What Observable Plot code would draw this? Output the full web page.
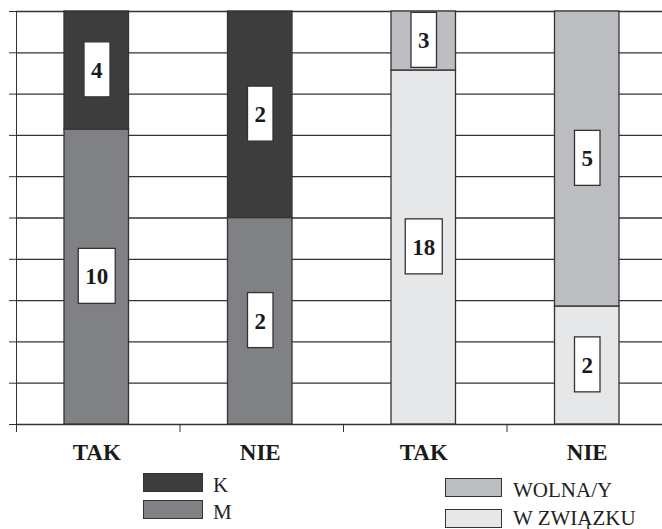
<!DOCTYPE html>
<html>
<head>
<meta charset="utf-8">
<script src="https://cdn.jsdelivr.net/npm/d3@7"></script>
<script src="https://cdn.jsdelivr.net/npm/@observablehq/plot@0.6"></script>
<style>
  html, body { margin: 0; padding: 0; background: #fff; }
  #wrap { position: relative; width: 662px; height: 529px; overflow: hidden; font-family: "Liberation Serif", "Times New Roman", serif; color: #222; }
  #wrap svg { position: absolute; left: 0; top: 0; }
  .swatch { position: absolute; box-sizing: border-box; border: 1.3px solid #333; }
  .legend-label { position: absolute; font-family: "Liberation Serif", "Times New Roman", serif; font-size: 21px; line-height: 20px; white-space: nowrap; }
</style>
</head>
<body>
<div id="wrap"></div>
<script>
// Groups along the x axis (two questions, each answered TAK / NIE)
const bars = ["TAK", "NIE", "TAK", "NIE"];
// Lower segment of each bar
const lowerSeries = ["M", "M", "W ZWIĄZKU", "W ZWIĄZKU"];
const lowerValues = [10, 2, 18, 2];
// Upper segment of each bar
const upperSeries = ["K", "K", "WOLNA/Y", "WOLNA/Y"];
const upperValues = [4, 2, 3, 5];
// Series and their fills
const seriesNames = ["K", "M", "WOLNA/Y", "W ZWIĄZKU"];
const seriesColors = ["#3d3d3d", "#808184", "#bcbdc0", "#e6e7e8"];

// One row per segment, lower segment first so it stacks at the bottom
const rows = [];
bars.forEach((label, i) => {
  rows.push({slot: i, label, series: lowerSeries[i], value: lowerValues[i]});
  rows.push({slot: i, label, series: upperSeries[i], value: upperValues[i]});
});

const gridSteps = d3.ticks(0, 1, 10);
const ink = "#333";
const serif = "'Liberation Serif', 'Times New Roman', serif";

const chart = Plot.plot({
  width: 662,
  height: 472,
  marginTop: 11,
  marginBottom: 48,
  marginLeft: 16,
  marginRight: 0,
  style: {background: "white", color: ink, fontFamily: serif, overflow: "hidden"},
  x: {type: "linear", domain: [0, bars.length], range: [16, 670], ticks: bars.length, tickSize: 8, tickFormat: () => "", label: null},
  y: {domain: [0, 1], ticks: 10, tickSize: 7, tickFormat: () => "", label: null, line: true},
  color: {domain: seriesNames, range: seriesColors},
  marks: [
    Plot.ruleY(gridSteps, {stroke: ink, strokeWidth: 1.3}),
    Plot.rectY(rows, {
      x1: d => d.slot,
      x2: d => d.slot + 1,
      y: "value",
      offset: "normalize",
      fill: "series",
      stroke: ink,
      strokeWidth: 1.3,
      insetLeft: 48,
      insetRight: 51
    }),
    Plot.text(bars, {
      x: (d, i) => i + 0.5,
      y: () => 0,
      text: d => d,
      dx: -1.5,
      dy: 28,
      fontFamily: serif,
      fontSize: 23,
      fontWeight: "bold",
      fill: "#1a1a1a"
    }),
    Plot.text(rows, Plot.stackY({
      x: d => d.slot + 0.5,
      y: "value",
      offset: "normalize",
      text: d => String(d.value),
      dx: -1.5,
      fontFamily: serif,
      fontSize: 23,
      fontWeight: "bold",
      fill: "#1a1a1a"
    }))
  ]
});

const wrap = document.getElementById("wrap");
wrap.appendChild(chart);

// White boxes behind the value labels
d3.select(chart).selectAll("text").each(function () {
  const t = this.textContent;
  if (!/^\d+$/.test(t)) return;
  const b = this.getBBox();
  const w = b.width + 14, h = 55;
  const cx = b.x + b.width / 2, cy = b.y + b.height / 2 - 1;
  const rect = document.createElementNS("http://www.w3.org/2000/svg", "rect");
  rect.setAttribute("x", cx - w / 2);
  rect.setAttribute("y", cy - h / 2);
  rect.setAttribute("width", w);
  rect.setAttribute("height", h);
  rect.setAttribute("fill", "white");
  rect.setAttribute("stroke", ink);
  rect.setAttribute("stroke-width", 1.3);
  const tr = this.getAttribute("transform");
  if (tr) rect.setAttribute("transform", tr);
  this.parentNode.insertBefore(rect, this);
});

// Legends: two groups below the chart
const legendGroups = [
  {names: ["K", "M"], swatchX: 143, swatchW: 60, swatchH: 19, tops: [472.5, 500], textX: 213, textTops: [474.5, 501.8]},
  {names: ["WOLNA/Y", "W ZWIĄZKU"], swatchX: 445, swatchW: 57, swatchH: 19, tops: [478, 508.5], textX: 513, textTops: [479.5, 507.8]}
];
legendGroups.forEach(g => {
  g.names.forEach((name, k) => {
    const sw = document.createElement("div");
    sw.className = "swatch";
    sw.style.left = g.swatchX + "px";
    sw.style.top = g.tops[k] + "px";
    sw.style.width = g.swatchW + "px";
    sw.style.height = g.swatchH + "px";
    sw.style.background = seriesColors[seriesNames.indexOf(name)];
    wrap.appendChild(sw);
    const lab = document.createElement("div");
    lab.className = "legend-label";
    lab.style.left = g.textX + "px";
    lab.style.top = g.textTops[k] + "px";
    lab.textContent = name;
    wrap.appendChild(lab);
  });
});
</script>
</body>
</html>
